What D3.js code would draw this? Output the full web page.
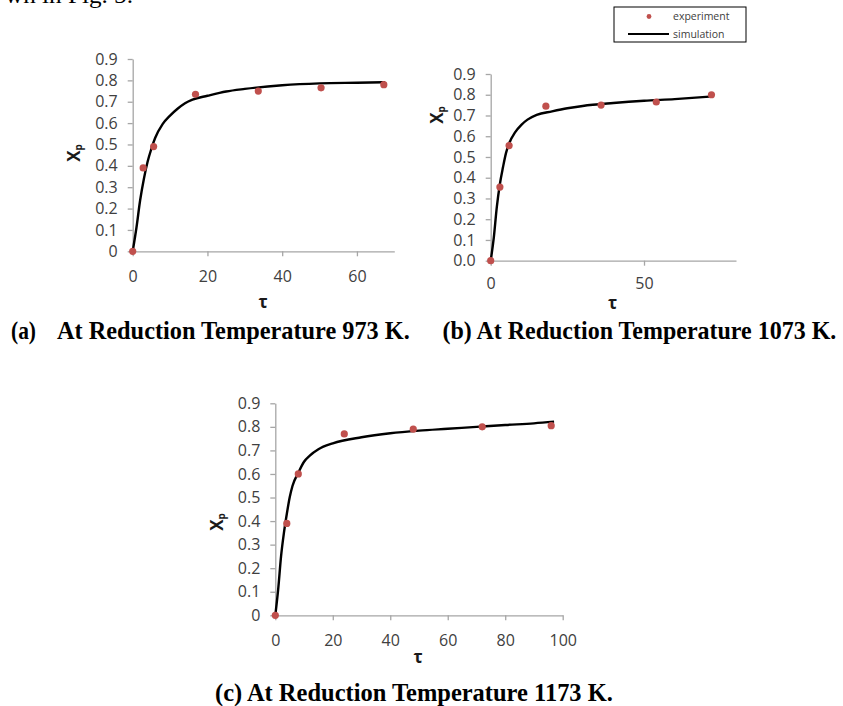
<!DOCTYPE html>
<html>
<head>
<meta charset="utf-8">
<script src="https://cdn.jsdelivr.net/npm/d3@7"></script>
<style>
  body { margin: 0; background: #fff; }
  svg { display: block; }
  .axis path, .axis line { stroke: #a6a6a6; stroke-width: 1.3; }
  .axis text { font-family: "Open Sans", sans-serif; font-size: 16px; fill: #404040; }
</style>
</head>
<body>
<div id="chart"></div>
<script>
// experiment points
const tauA = [0, 2.8, 5.6, 16.8, 33.6, 50.4, 67.2];
const xpA = [0, 0.39, 0.49, 0.735, 0.75, 0.765, 0.78];
const tauB = [0, 3, 6, 18, 36, 54, 72];
const xpB = [0, 0.355, 0.555, 0.745, 0.75, 0.765, 0.80];
const tauC = [0, 4, 8, 24, 48, 72, 96];
const xpC = [0, 0.39, 0.60, 0.77, 0.79, 0.80, 0.805];

// simulation curves
const simTauA = [0, 1, 2, 3, 4, 5, 6, 8, 10, 12, 14, 16, 20, 25, 30, 40, 50, 60, 67.5];
const simXpA = [0, 0.11, 0.24, 0.34, 0.42, 0.48, 0.53, 0.595, 0.635, 0.667, 0.693, 0.71, 0.728, 0.748, 0.76, 0.777, 0.786, 0.789, 0.791];
const simTauB = [0, 1, 2, 3, 4, 5, 6, 8, 10, 12, 15, 20, 25, 30, 40, 50, 60, 72.5];
const simXpB = [0, 0.11, 0.26, 0.37, 0.45, 0.52, 0.565, 0.62, 0.655, 0.68, 0.703, 0.72, 0.735, 0.746, 0.76, 0.771, 0.779, 0.792];
const simTauC = [0, 1, 2, 3, 4, 5, 6, 8, 10, 12, 15, 20, 30, 40, 50, 60, 70, 80, 90, 97];
const simXpC = [0, 0.11, 0.25, 0.35, 0.43, 0.5, 0.55, 0.605, 0.652, 0.678, 0.705, 0.73, 0.756, 0.773, 0.784, 0.792, 0.8, 0.808, 0.815, 0.822];

const yTicks = [0, 0.1, 0.2, 0.3, 0.4, 0.5, 0.6, 0.7, 0.8, 0.9];
const xTicksA = [0, 20, 40, 60];
const xTicksB = [0, 50];
const xTicksC = [0, 20, 40, 60, 80, 100];

const legendLabels = ["experiment", "simulation"];
const captions = [
  ["(a)", "At Reduction Temperature 973 K."],
  ["(b) At Reduction Temperature 1073 K."],
  ["(c) At Reduction Temperature 1173 K."]
];

const red = "#c0504d";

const svg = d3.select("#chart").append("svg")
  .attr("width", 843)
  .attr("height", 706);

function drawPanel(p) {
  const x = d3.scaleLinear().domain([0, p.xMax]).range([p.left, p.right]);
  const y = d3.scaleLinear().domain([0, 0.9]).range([p.bottom, p.top]);
  const g = svg.append("g");

  g.append("g")
    .attr("class", "axis")
    .attr("transform", "translate(0," + p.bottom + ")")
    .call(d3.axisBottom(x).tickValues(p.xTicks).tickSize(5).tickSizeOuter(0).tickPadding(p.xPad).tickFormat(d3.format("d")));

  g.append("g")
    .attr("class", "axis")
    .attr("transform", "translate(" + p.left + ",0)")
    .call(d3.axisLeft(y).tickValues(yTicks).tickSize(5).tickSizeOuter(0).tickPadding(10).tickFormat(p.yFmt));

  // simulation line
  const line = d3.line()
    .x((d, i) => x(p.simTau[i]))
    .y(d => y(d))
    .curve(d3.curveMonotoneX);
  g.append("path")
    .datum(p.simXp)
    .attr("d", line)
    .attr("fill", "none")
    .attr("stroke", "#000")
    .attr("stroke-width", 2.4);

  // experiment points
  g.selectAll("circle")
    .data(p.xp)
    .enter().append("circle")
    .attr("cx", (d, i) => x(p.tau[i]))
    .attr("cy", d => y(d))
    .attr("r", 3.6)
    .attr("fill", red);

  // axis titles
  const yl = g.append("text")
    .attr("transform", "translate(" + p.ylab[0] + "," + p.ylab[1] + ") rotate(-90)")
    .attr("text-anchor", "middle")
    .attr("font-family", "Open Sans, sans-serif")
    .attr("font-weight", "bold")
    .attr("font-size", 17)
    .attr("fill", "#1a1a1a")
    .attr("dy", "0.35em");
  yl.append("tspan").text("X");
  yl.append("tspan").attr("font-size", 10).attr("dy", "0.2em").text("p");

  g.append("text")
    .attr("x", p.xlab[0])
    .attr("y", p.xlab[1])
    .attr("text-anchor", "middle")
    .attr("dy", "0.35em")
    .attr("font-family", "Open Sans, sans-serif")
    .attr("font-weight", "bold")
    .attr("font-size", 17)
    .attr("fill", "#1a1a1a")
    .text("τ");
}

drawPanel({
  tau: tauA, xp: xpA, simTau: simTauA, simXp: simXpA,
  xMax: 70, xTicks: xTicksA, yFmt: d => d === 0 ? "0" : d3.format(".1f")(d),
  left: 132.7, right: 394.3, top: 59, bottom: 251.3, xPad: 14,
  ylab: [74, 153], xlab: [263, 302]
});

drawPanel({
  tau: tauB, xp: xpB, simTau: simTauB, simXp: simXpB,
  xMax: 80, xTicks: xTicksB, yFmt: d3.format(".1f"),
  left: 490.7, right: 736, top: 74, bottom: 260.7, xPad: 12,
  ylab: [437, 115], xlab: [612.7, 303]
});

drawPanel({
  tau: tauC, xp: xpC, simTau: simTauC, simXp: simXpC,
  xMax: 100, xTicks: xTicksC, yFmt: d => d === 0 ? "0" : d3.format(".1f")(d),
  left: 275.3, right: 562.7, top: 403.3, bottom: 615.3, xPad: 14,
  ylab: [217, 522], xlab: [418, 657]
});

// legend (belongs to panel b)
const leg = svg.append("g");
leg.append("rect")
  .attr("x", 614).attr("y", 7).attr("width", 132).attr("height", 35)
  .attr("fill", "#fff").attr("stroke", "#000").attr("stroke-width", 1);
leg.append("circle").attr("cx", 649).attr("cy", 16.5).attr("r", 2.4).attr("fill", red);
leg.append("line").attr("x1", 628).attr("x2", 669).attr("y1", 34).attr("y2", 34)
  .attr("stroke", "#000").attr("stroke-width", 2);
leg.selectAll("text.lbl")
  .data(legendLabels)
  .enter().append("text")
  .attr("class", "lbl")
  .attr("x", 673)
  .attr("y", (d, i) => 16.5 + i * 17.5)
  .attr("dy", "0.35em")
  .attr("font-family", "Open Sans, sans-serif")
  .attr("font-size", 10.5)
  .attr("fill", "#404040")
  .text(d => d);

// captions: tall bold serif squeezed sideways to the width in the picture
function serif(x, y, str, len) {
  const t = svg.append("text")
    .attr("font-family", "Liberation Serif, Times New Roman, serif")
    .attr("font-weight", "bold")
    .attr("font-size", 25)
    .attr("fill", "#000")
    .text(str);
  const w = t.node().getComputedTextLength();
  t.attr("transform", "translate(" + x + "," + y + ") scale(" + (len / w) + ",1)");
}
serif(11, 339, captions[0][0], 25);
serif(57, 339, captions[0][1], 353);
serif(442.5, 339, captions[1][0], 394);
serif(215, 701, captions[2][0], 398);

// clipped line of body text above the figure
svg.append("text")
  .attr("x", 5).attr("y", 3)
  .attr("font-family", "Liberation Serif, Times New Roman, serif")
  .attr("font-size", 24)
  .attr("textLength", 128)
  .attr("lengthAdjust", "spacingAndGlyphs")
  .text("wn in Fig. 5.");
</script>
</body>
</html>
